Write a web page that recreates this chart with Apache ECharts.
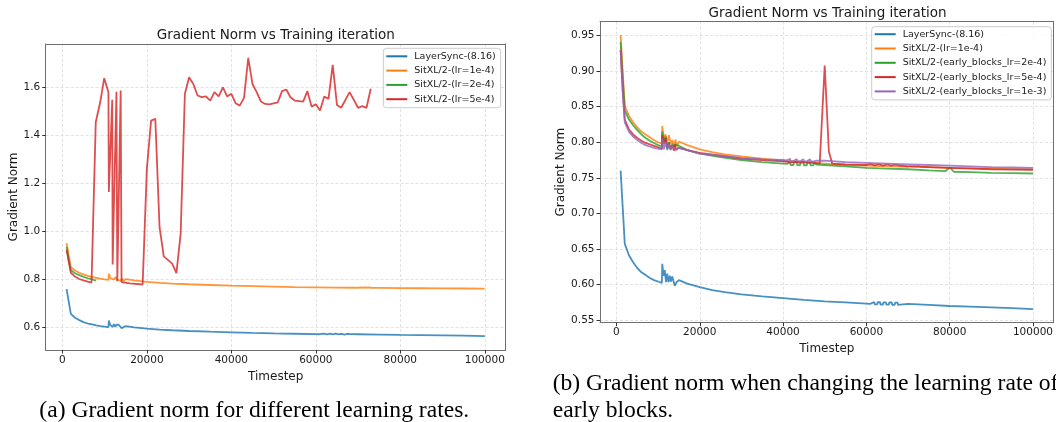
<!DOCTYPE html>
<html>
<head>
<meta charset="utf-8">
<script src="https://cdn.jsdelivr.net/npm/echarts@6/dist/echarts.min.js"></script>
<style>
html,body{margin:0;padding:0;background:#fff;}
#c{width:1056px;height:422px;}
</style>
</head>
<body>
<div id="c"></div>
<script>
// ---------- DATA ----------
const xTickValues = [0, 20000, 40000, 60000, 80000, 100000];
const yTicksA = [0.6, 0.8, 1.0, 1.2, 1.4, 1.6];
const yTicksB = [0.55, 0.60, 0.65, 0.70, 0.75, 0.80, 0.85, 0.90, 0.95];

const namesA = ['LayerSync-(8.16)', 'SitXL/2-(lr=1e-4)', 'SitXL/2-(lr=2e-4)', 'SitXL/2-(lr=5e-4)'];
const namesB = ['LayerSync-(8.16)', 'SitXL/2-(lr=1e-4)', 'SitXL/2-(early_blocks_lr=2e-4)', 'SitXL/2-(early_blocks_lr=5e-4)', 'SitXL/2-(early_blocks_lr=1e-3)'];

// LayerSync-(8.16) (shared by both panels)
const layerSyncSteps = [1000,2000,3000,4000,5000,6000,7000,8000,9000,10000,10900,11000,11300,11600,11900,12200,12500,12800,13100,13400,13800,14000,14400,15000,17000,20000,23000,26000,30000,35000,40000,45000,50000,55000,60000,60900,61000,61900,62000,62600,62700,63300,63400,64000,64100,64700,64800,65400,65500,66100,66200,66800,66900,67500,67600,68000,70000,75000,80000,85000,90000,95000,100000];
const layerSyncVals  = [0.760,0.657,0.641,0.631,0.623,0.617,0.613,0.609,0.606,0.604,0.602,0.629,0.612,0.620,0.603,0.615,0.603,0.612,0.604,0.611,0.610,0.598,0.603,0.606,0.601,0.596,0.592,0.589,0.586,0.583,0.5805,0.578,0.576,0.5745,0.5728,0.5725,0.5752,0.5752,0.5718,0.5718,0.5748,0.5748,0.5716,0.5716,0.5746,0.5746,0.5714,0.5714,0.5744,0.5744,0.5712,0.5712,0.5742,0.5742,0.5710,0.5730,0.5725,0.571,0.5695,0.5685,0.5675,0.5665,0.565];

// SitXL/2-(lr=1e-4) (shared by both panels)
const lr1e4Steps = [1000,1500,2000,3000,4000,5000,6000,7000,8000,9000,10000,10900,11000,11400,11800,12200,12600,13000,13400,13800,14200,14400,15000,17000,20000,23000,26000,30000,35000,40000,45000,50000,55000,60000,65000,70000,70500,71000,71500,72000,72500,73000,75000,80000,85000,90000,95000,100000];
const lr1e4Vals  = [0.951,0.900,0.851,0.837,0.828,0.821,0.815,0.811,0.807,0.803,0.800,0.798,0.823,0.805,0.811,0.799,0.810,0.798,0.803,0.795,0.804,0.793,0.801,0.796,0.790,0.786,0.783,0.780,0.777,0.774,0.772,0.770,0.768,0.767,0.766,0.7655,0.7668,0.7655,0.7668,0.7655,0.7668,0.7655,0.765,0.764,0.7635,0.763,0.7625,0.762];

// Panel (a): SitXL/2-(lr=2e-4)
const lr2e4Steps = [1000,1500,2000,3000,4000,5000,6000,7000,8000];
const lr2e4Vals  = [0.935,0.880,0.838,0.826,0.818,0.811,0.805,0.800,0.795];

// Panel (a): SitXL/2-(lr=5e-4)
const lr5e4Steps = [1000,2000,3000,4000,5000,6000,6900,7900,9000,9900,10900,11000,11800,11900,12800,13000,13800,14000,16000,19000,20000,21000,22000,23000,24000,26000,27000,28000,29000,30000,31000,32000,33000,34000,35000,36000,37000,38000,39000,40000,41000,42000,43000,44000,45000,46000,47000,48000,49000,51000,52000,53000,54000,55000,57000,58000,59000,60000,61000,62000,63000,64000,65000,66000,68000,70000,71000,72000,73000];
const lr5e4Vals  = [0.922,0.828,0.812,0.802,0.796,0.791,0.787,1.453,1.540,1.636,1.578,1.163,1.546,0.862,1.580,0.793,1.585,0.789,0.784,0.779,1.260,1.460,1.467,1.017,0.896,0.866,0.826,0.990,1.571,1.640,1.612,1.564,1.557,1.560,1.543,1.578,1.560,1.598,1.560,1.571,1.532,1.522,1.554,1.720,1.612,1.578,1.539,1.529,1.527,1.536,1.582,1.589,1.557,1.543,1.539,1.582,1.518,1.528,1.502,1.560,1.550,1.691,1.525,1.513,1.578,1.513,1.520,1.513,1.592];

// Panel (b): early_blocks_lr=2e-4
const eb2e4Steps = [1000,1500,2000,3000,4000,5000,6000,7000,8000,9000,10000,10900,11000,11400,11800,12200,12600,13000,13400,13800,14200,15000,17000,20000,25000,30000,35000,40000,40900,41000,41700,41800,42500,42600,43300,43400,44100,44200,44900,45000,45700,45800,46500,46600,47300,47400,48000,50000,55000,60000,65000,70000,75000,79000,80000,81000,85000,90000,95000,100000];
const eb2e4Vals  = [0.941,0.890,0.845,0.832,0.824,0.817,0.811,0.806,0.802,0.799,0.796,0.794,0.815,0.800,0.808,0.789,0.800,0.789,0.798,0.792,0.797,0.795,0.789,0.784,0.779,0.775,0.772,0.770,0.7695,0.7720,0.7720,0.7680,0.7680,0.7718,0.7718,0.7678,0.7678,0.7716,0.7716,0.7676,0.7676,0.7714,0.7714,0.7674,0.7674,0.7712,0.7685,0.768,0.766,0.764,0.763,0.762,0.7605,0.7595,0.7645,0.7585,0.758,0.757,0.7565,0.756];

// Panel (b): early_blocks_lr=5e-4
const eb5e4Steps = [1000,1500,2000,3000,4000,5000,6000,7000,8000,9000,10000,10900,11000,11400,11800,12200,12600,13000,13400,13800,14000,14200,15000,17000,20000,25000,30000,35000,40000,41000,42000,43000,44000,45000,46000,47000,48800,50000,51000,51800,55000,60000,61000,62000,63000,64000,65000,66000,67000,68000,70000,75000,80000,85000,90000,95000,100000];
const eb5e4Vals  = [0.930,0.875,0.832,0.818,0.811,0.806,0.802,0.799,0.797,0.795,0.793,0.791,0.810,0.798,0.806,0.792,0.799,0.791,0.795,0.788,0.797,0.789,0.792,0.789,0.785,0.781,0.777,0.775,0.773,0.7725,0.7718,0.7725,0.7715,0.7722,0.7712,0.7718,0.770,0.908,0.787,0.770,0.769,0.768,0.7695,0.7675,0.7692,0.7672,0.769,0.767,0.7685,0.767,0.766,0.765,0.764,0.763,0.762,0.7615,0.761];

// Panel (b): early_blocks_lr=1e-3
const eb1e3Steps = [1000,1500,2000,3000,4000,5000,6000,7000,8000,9000,10000,10900,11000,11400,11800,12200,12600,13000,13400,14000,15000,17000,20000,25000,30000,35000,40000,40900,41000,41700,41800,42500,42600,43300,43400,44100,44200,44900,45000,45700,45800,46500,46600,47300,47400,48000,50000,55000,60000,65000,70000,75000,80000,85000,90000,95000,100000];
const eb1e3Vals  = [0.930,0.870,0.828,0.815,0.808,0.803,0.799,0.796,0.794,0.792,0.791,0.790,0.805,0.790,0.800,0.791,0.797,0.790,0.794,0.791,0.792,0.789,0.784,0.781,0.778,0.776,0.775,0.7745,0.7765,0.7765,0.7735,0.7735,0.7763,0.7763,0.7733,0.7733,0.7761,0.7761,0.7731,0.7731,0.7759,0.7759,0.7729,0.7729,0.7757,0.7740,0.774,0.772,0.771,0.770,0.769,0.768,0.767,0.766,0.765,0.7645,0.764];

const captionA = '(a) Gradient norm for different learning rates.';
const captionB1 = '(b) Gradient norm when changing the learning rate of';
const captionB2 = 'early blocks.';
const chartTitle = 'Gradient Norm vs Training iteration';
const xName = 'Timestep';
const yName = 'Gradient Norm';

// ---------- BUILD ----------
const zip = (s, v) => s.map((x, i) => [x, v[i]]);
const colors = ['#1f77b4', '#ff7f0e', '#2ca02c', '#d62728', '#9467bd'];
const FONT = '"DejaVu Sans", sans-serif';
const TXT = '#1a1a1a';
const SPINE = '#6e6e6e';
const CAPFONT = '23.6px "Liberation Serif", serif';

function mkSeries(name, steps, vals, color, axis) {
  return {
    type: 'line', name: name, data: zip(steps, vals),
    xAxisIndex: axis, yAxisIndex: axis,
    showSymbol: false, symbol: 'none', animation: false,
    color: color,
    lineStyle: { width: 1.8, color: color, opacity: 0.82 },
    emphasis: { disabled: true }
  };
}

const grids = [
  { left: 45.7, top: 44, width: 460, height: 306 },
  { left: 600, top: 21.7, width: 455, height: 301 }
];

function mkX(gi, nameGap) {
  return {
    type: 'value', gridIndex: gi, min: -3950, max: 104950,
    name: xName, nameLocation: 'middle', nameGap: nameGap,
    nameTextStyle: { fontFamily: FONT, fontSize: 12, color: TXT },
    axisLine: { show: true, onZero: false, lineStyle: { color: SPINE, width: 1 } },
    axisTick: { show: true, length: 3.5, inside: false, customValues: xTickValues, lineStyle: { color: '#333' } },
    axisLabel: { customValues: xTickValues, margin: 4.5, fontFamily: FONT, fontSize: 10.5, color: TXT, formatter: v => String(Math.round(v)) },
    splitLine: { show: true, lineStyle: { color: '#dadada', type: [3, 2], width: 0.8 } }
  };
}
function mkY(gi, min, max, ticks, dec, nameGap) {
  return {
    type: 'value', gridIndex: gi, min: min, max: max,
    name: yName, nameLocation: 'middle', nameGap: nameGap,
    nameTextStyle: { fontFamily: FONT, fontSize: 12, color: TXT },
    axisLine: { show: true, onZero: false, lineStyle: { color: SPINE, width: 1 } },
    axisTick: { show: true, length: 3.5, inside: false, customValues: ticks, lineStyle: { color: '#333' } },
    axisLabel: { customValues: ticks, margin: 5.5, fontFamily: FONT, fontSize: 10.5, color: TXT, formatter: v => v.toFixed(dec) },
    splitLine: { show: true, lineStyle: { color: '#dadada', type: [3, 2], width: 0.8 } }
  };
}
function spineX(gi) {
  return { type: 'value', gridIndex: gi, position: 'top', min: -3950, max: 104950,
    axisLine: { show: true, onZero: false, lineStyle: { color: SPINE, width: 1 } },
    axisTick: { show: false }, axisLabel: { show: false }, splitLine: { show: false } };
}
function spineY(gi, min, max) {
  return { type: 'value', gridIndex: gi, position: 'right', min: min, max: max,
    axisLine: { show: true, onZero: false, lineStyle: { color: SPINE, width: 1 } },
    axisTick: { show: false }, axisLabel: { show: false }, splitLine: { show: false } };
}

function mkLegend(names, left, top, pad) {
  return {
    data: names.map(n => ({ name: n })), orient: 'vertical', left: left, top: top,
    icon: 'rect', itemWidth: 21, itemHeight: 2, itemGap: 3.3,
    padding: pad, backgroundColor: 'rgba(255,255,255,0.85)',
    borderColor: '#cccccc', borderWidth: 1, borderRadius: 3,
    selectedMode: false,
    textStyle: { fontFamily: FONT, fontSize: 9.5, color: TXT, lineHeight: 11, padding: [0, 0, 0, 2] }
  };
}

const option = {
  animation: false,
  backgroundColor: '#ffffff',
  grid: grids,
  xAxis: [mkX(0, 16), mkX(1, 16.5), spineX(0), spineX(1)],
  yAxis: [mkY(0, 0.507, 1.778, yTicksA, 1, 26), mkY(1, 0.546, 0.9697, yTicksB, 2, 32), spineY(0, 0.507, 1.778), spineY(1, 0.546, 0.9697)],
  legend: [
    mkLegend(namesA, 383.3, 48.3, [2.5, 5, 3, 3]),
    mkLegend(namesB, 871.7, 26.7, [2, 5, 3, 3])
  ],
  series: [
    mkSeries(namesA[0], layerSyncSteps, layerSyncVals, colors[0], 0),
    mkSeries(namesA[1], lr1e4Steps, lr1e4Vals, colors[1], 0),
    mkSeries(namesA[2], lr2e4Steps, lr2e4Vals, colors[2], 0),
    mkSeries(namesA[3], lr5e4Steps, lr5e4Vals, colors[3], 0),
    mkSeries(namesB[0], layerSyncSteps, layerSyncVals, colors[0], 1),
    mkSeries(namesB[1], lr1e4Steps, lr1e4Vals, colors[1], 1),
    mkSeries(namesB[2], eb2e4Steps, eb2e4Vals, colors[2], 1),
    mkSeries(namesB[3], eb5e4Steps, eb5e4Vals, colors[3], 1),
    mkSeries(namesB[4], eb1e3Steps, eb1e3Vals, colors[4], 1)
  ],
  graphic: [
    { type: 'text', x: 275.7, y: 35, style: { text: chartTitle, font: '13.5px ' + FONT, fill: TXT, textAlign: 'center', textVerticalAlign: 'middle' } },
    { type: 'text', x: 827.5, y: 13.3, style: { text: chartTitle, font: '13.5px ' + FONT, fill: TXT, textAlign: 'center', textVerticalAlign: 'middle' } },
    { type: 'text', x: 39.3, y: 411, style: { text: captionA, font: CAPFONT, fill: '#000', textAlign: 'left', textVerticalAlign: 'middle' } },
    { type: 'text', x: 552.7, y: 384, style: { text: captionB1, font: CAPFONT, fill: '#000', textAlign: 'left', textVerticalAlign: 'middle' } },
    { type: 'text', x: 552.7, y: 411, style: { text: captionB2, font: CAPFONT, fill: '#000', textAlign: 'left', textVerticalAlign: 'middle' } }
  ]
};

const chart = echarts.init(document.getElementById('c'), null, { renderer: 'canvas' });
chart.setOption(option);
</script>
</body>
</html>
